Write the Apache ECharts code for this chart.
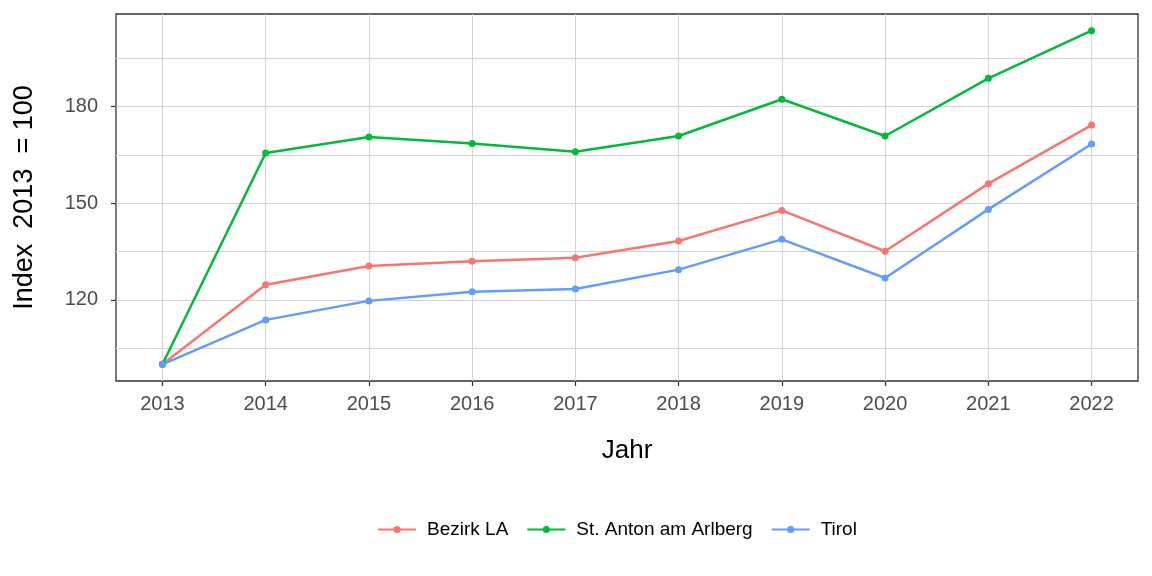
<!DOCTYPE html>
<html>
<head>
<meta charset="utf-8">
<script src="https://cdn.jsdelivr.net/npm/echarts@6/dist/echarts.min.js"></script>
<style>
html,body{margin:0;padding:0;background:#fff;}
#chart{width:1152px;height:576px;}
</style>
</head>
<body>
<div id="chart"></div>
<script>
const years = [2013, 2014, 2015, 2016, 2017, 2018, 2019, 2020, 2021, 2022];
const bezirkLA = [100, 124.7, 130.5, 132.0, 133.1, 138.3, 147.8, 135.1, 156.1, 174.3];
const stAnton = [100, 165.6, 170.6, 168.6, 166.0, 170.9, 182.3, 170.9, 188.8, 203.6];
const tirol = [100, 113.8, 119.7, 122.5, 123.4, 129.4, 138.8, 126.8, 148.1, 168.4];
const yTicks = [120, 150, 180];
const yMinor = [105, 135, 165, 195];
const seriesNames = ['Bezirk LA', 'St. Anton am Arlberg', 'Tirol'];
const colors = ['#F8766D', '#00BA38', '#619CFF'];

const FONT = '"Liberation Sans", Arial, sans-serif';
const chart = echarts.init(document.getElementById('chart'), null, {renderer: 'canvas'});

function mk(name, vals, color) {
  return {
    name: name,
    type: 'line',
    data: years.map((y, i) => [y, vals[i]]),
    symbol: 'circle',
    symbolSize: 7,
    lineStyle: {width: 2.5, color: color},
    itemStyle: {color: color},
    emphasis: {disabled: true},
    z: 5
  };
}

const series = [
  mk(seriesNames[0], bezirkLA, colors[0]),
  mk(seriesNames[1], stAnton, colors[1]),
  mk(seriesNames[2], tirol, colors[2])
];
// minor grid lines via a hidden helper series markLine
series.push({
  type: 'line',
  data: [],
  silent: true,
  markLine: {
    silent: true,
    symbol: ['none', 'none'],
    label: {show: false},
    lineStyle: {color: '#d4d4d4', width: 1, type: 'solid'},
    emphasis: {disabled: true},
    data: yMinor.map(v => ({yAxis: v}))
  },
  z: 1
});

const option = {
  animation: false,
  backgroundColor: '#ffffff',
  color: colors,
  grid: {
    left: 116, right: 14, top: 14, bottom: 195,
    show: true, borderColor: '#333333', borderWidth: 1.3, backgroundColor: 'transparent'
  },
  xAxis: {
    type: 'value',
    min: 2012.55, max: 2022.45,
    name: 'Jahr',
    nameLocation: 'middle',
    nameGap: 57,
    nameTextStyle: {fontFamily: FONT, fontSize: 26, color: '#000000'},
    axisLine: {show: false},
    axisTick: {show: true, length: 5, lineStyle: {color: '#333333', width: 1.2}, customValues: years},
    axisLabel: {customValues: years, fontFamily: FONT, fontSize: 20, color: '#4d4d4d', margin: 13,
      formatter: v => String(v)},
    splitLine: {show: true, lineStyle: {color: '#d4d4d4', width: 1}}
  },
  yAxis: {
    type: 'value',
    min: 94.82, max: 208.78,
    name: 'Index  2013  = 100',
    nameLocation: 'middle',
    nameGap: 78,
    nameRotate: 90,
    nameTextStyle: {fontFamily: FONT, fontSize: 27, color: '#000000'},
    axisLine: {show: false},
    axisTick: {show: true, length: 5, lineStyle: {color: '#333333', width: 1.2}, customValues: yTicks},
    axisLabel: {customValues: yTicks, fontFamily: FONT, fontSize: 20, color: '#4d4d4d', margin: 18},
    splitLine: {show: true, lineStyle: {color: '#d4d4d4', width: 1}}
  },
  legend: {
    data: seriesNames,
    left: 372,
    top: 515,
    itemWidth: 38,
    itemHeight: 9,
    itemGap: 18,
    textStyle: {fontFamily: FONT, fontSize: 19, color: '#000000', padding: [0, 0, 0, 6]},
    selectedMode: false
  },
  series: series
};
chart.setOption(option);
</script>
</body>
</html>
